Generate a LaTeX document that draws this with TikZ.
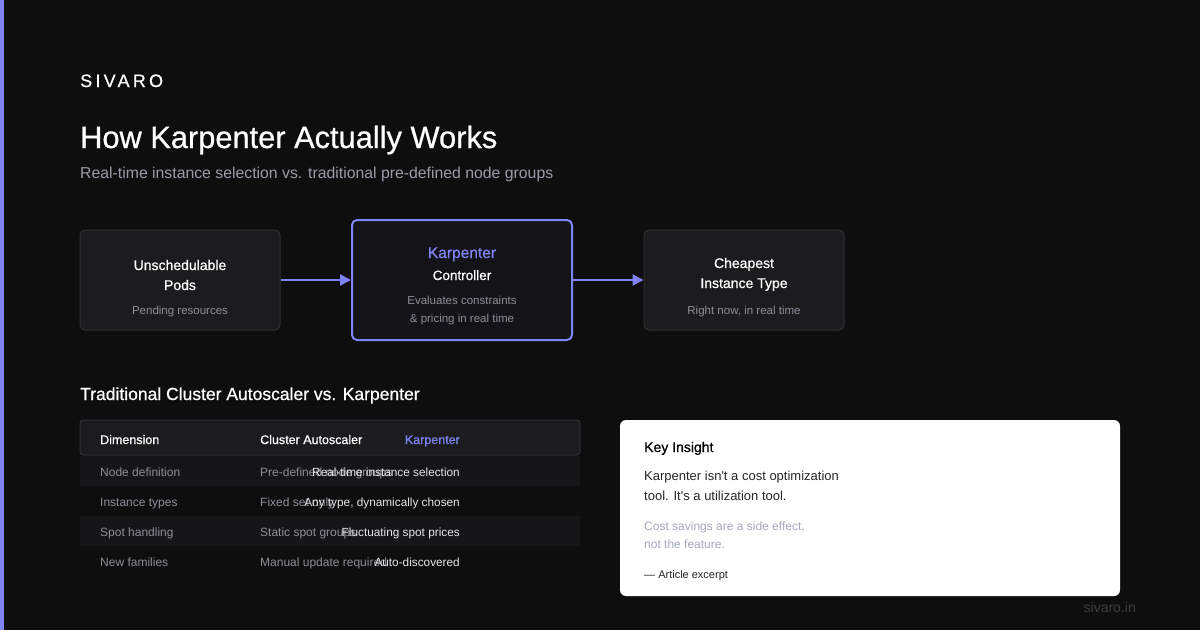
\documentclass[tikz,border=0pt]{standalone}
\usepackage{fontspec}
\setmainfont{Liberation Sans}
\newfontfamily\spacedfont[LetterSpace=18,FakeBold=0.5]{Liberation Sans}
\newfontfamily\medfont[FakeBold=0.7]{Liberation Sans}
\usetikzlibrary{arrows.meta,positioning}
\definecolor{bgdark}{HTML}{0E0E0F}
\definecolor{accent}{HTML}{7F83F5}
\definecolor{cardfill}{HTML}{1C1C1F}
\definecolor{cardline}{HTML}{2F2F34}
\definecolor{ctrlfill}{HTML}{141418}
\definecolor{rowfill}{HTML}{161618}
\definecolor{mutedgray}{HTML}{8E8E98}
\definecolor{subgray}{HTML}{9C9CA8}
\definecolor{softwhite}{HTML}{E6E6EA}
\definecolor{notegray}{HTML}{A4A8BC}
\definecolor{footgray}{HTML}{3E3E42}
\newcommand\fsz[1]{\fontsize{#1}{#1}\selectfont}
\tikzset{
  txt/.style={inner sep=0, anchor=base west},
  card/.style={draw=cardline, fill=cardfill, line width=1, rounded corners=5,
    minimum width=200, minimum height=100},
  flow/.style={accent, line width=2, -{Triangle[length=11pt,width=11pt]}},
}
\begin{document}
\begin{tikzpicture}[x=1pt, y=-1pt]
% Canvas and accent bar
\fill[bgdark] (0,0) rectangle (1200,630);
\fill[accent] (0,0) rectangle (4,630);
\useasboundingbox (0,0) rectangle (1200,630);
% Header
\node[txt, white] (brand) at (80,87) {\spacedfont\fsz{18}SIVARO};
\node[txt, white] (title) at (80,148) {\medfont\fsz{30.8}How Karpenter Actually Works};
\node[txt, subgray] (subtitle) at (80,178) {\fsz{15.8}Real-time instance selection vs. traditional pre-defined node groups};
% Flow cards
\node[card] (pods) at (180,280) {};
\node[card, draw=accent, fill=ctrlfill, line width=2, minimum width=220, minimum height=120] (ctrl) at (462,280) {};
\node[card] (cheap) at (744,280) {};
\node[txt, anchor=base, white] (podsA) at (180,270) {\medfont\fsz{14}Unschedulable};
\node[txt, anchor=base, white] (podsB) at (180,290) {\medfont\fsz{14}Pods};
\node[txt, anchor=base, mutedgray] (podsC) at (180,314) {\fsz{11.5}Pending resources};
\node[txt, anchor=base, accent] (ctrlA) at (462,258) {\medfont\fsz{15.5}Karpenter};
\node[txt, anchor=base, white] (ctrlB) at (462,280) {\medfont\fsz{13.5}Controller};
\node[txt, anchor=base, mutedgray] (ctrlC) at (462,304) {\fsz{11.5}Evaluates constraints};
\node[txt, anchor=base, mutedgray] (ctrlD) at (462,322) {\fsz{11.5}\& pricing in real time};
\node[txt, anchor=base, white] (cheapA) at (744,268) {\medfont\fsz{14}Cheapest};
\node[txt, anchor=base, white] (cheapB) at (744,288) {\medfont\fsz{14}Instance Type};
\node[txt, anchor=base, mutedgray] (cheapC) at (744,314) {\fsz{11.5}Right now, in real time};
% Arrows between cards
\draw[flow] (pods) -- (ctrl);
\draw[flow] (ctrl) -- (cheap);
% Comparison table
\node[txt, white] (section) at (80,400) {\medfont\fsz{17.5}Traditional Cluster Autoscaler vs. Karpenter};
\node[card, rounded corners=3, minimum width=500, minimum height=35] (thead) at (330,437.5) {};
\node[fill=rowfill, minimum width=500, minimum height=30, inner sep=0] (rowA) at (330,471) {};
\node[fill=rowfill, minimum width=500, minimum height=30, inner sep=0] (rowC) at (330,531) {};
\node[txt, white] (hdim) at (100,444) {\medfont\fsz{12.5}Dimension};
\node[txt, white] (hca) at (260,444) {\medfont\fsz{12.5}Cluster Autoscaler};
\node[txt, anchor=base east, accent] (hkp) at (460,444) {\medfont\fsz{12.5}Karpenter};
% Row 1
\node[txt, mutedgray] (dimA) at (100,476.5) {\fsz{12}Node definition};
\node[txt, mutedgray] (caA) at (260,476.5) {\fsz{12}Pre-defined node groups};
\node[txt, anchor=base east, softwhite] (kpA) at (460,476.5) {\fsz{11.8}Real-time instance selection};
% Row 2
\node[txt, mutedgray] (dimB) at (100,506.5) {\fsz{12}Instance types};
\node[txt, mutedgray] (caB) at (260,506.5) {\fsz{12}Fixed set only};
\node[txt, anchor=base east, softwhite] (kpB) at (460,506.5) {\fsz{11.8}Any type, dynamically chosen};
% Row 3
\node[txt, mutedgray] (dimC) at (100,536.5) {\fsz{12}Spot handling};
\node[txt, mutedgray] (caC) at (260,536.5) {\fsz{12}Static spot groups};
\node[txt, anchor=base east, softwhite] (kpC) at (460,536.5) {\fsz{11.8}Fluctuating spot prices};
% Row 4
\node[txt, mutedgray] (dimD) at (100,566.5) {\fsz{12}New families};
\node[txt, mutedgray] (caD) at (260,566.5) {\fsz{12}Manual update required};
\node[txt, anchor=base east, softwhite] (kpD) at (460,566.5) {\fsz{11.8}Auto-discovered};
% Key insight card
\node[fill=white, rounded corners=6, minimum width=500, minimum height=176, inner sep=0] (insight) at (870,508) {};
\node[txt, black] (keyA) at (644,452) {\medfont\fsz{14}Key Insight};
\node[txt, black!85] (keyB) at (644,480) {\fsz{13}Karpenter isn\textquotesingle t a cost optimization};
\node[txt, black!85] (keyC) at (644,500) {\fsz{13}tool. It\textquotesingle s a utilization tool.};
\node[txt, notegray] (keyD) at (644,530) {\fsz{12}Cost savings are a side effect,};
\node[txt, notegray] (keyE) at (644,548) {\fsz{12}not the feature.};
\node[txt, black!85] (keyF) at (644,578) {\fsz{11}— Article excerpt};
% Footer
\node[txt, anchor=base east, footgray] (site) at (1136,612) {\fsz{14}sivaro.in};
\end{tikzpicture}
\end{document}
